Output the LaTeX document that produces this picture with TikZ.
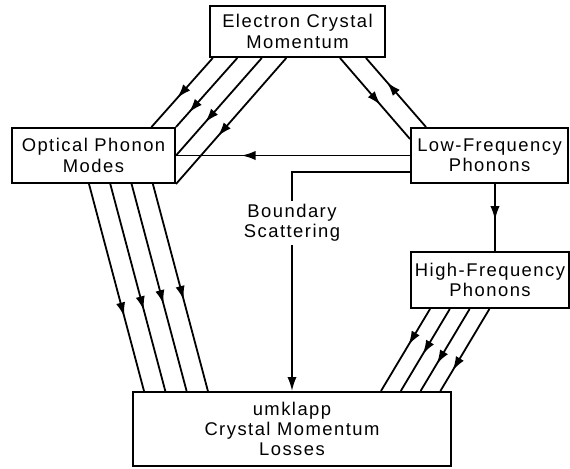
\documentclass[tikz,border=0pt]{standalone}
\usepackage{fontspec}
\setmainfont{Liberation Sans}[LetterSpace=8.0]
\usetikzlibrary{arrows.meta,calc,decorations.markings}

\tikzset{
  box/.style={draw, line width=1pt, align=center, inner sep=0pt,
    font=\fontsize{9.2}{10.2}\selectfont},
  link/.style={line width=0.9pt},
  tipat/.style={postaction={decorate}, decoration={markings,
    mark=at position #1 with {\arrow{Latex[length=7pt,width=4.6pt]}}}},
}

\begin{document}
\begin{tikzpicture}[x=0.5pt, y=-0.5pt]

% Frame (pixel grid of the figure)
\useasboundingbox (0,0) rectangle (570,468);

% Boxes
\node[box, minimum width=87.5pt, minimum height=25.5pt] (ecm) at (297.5,31.5) {Electron Crystal\\Momentum};
\node[box, minimum width=81.5pt, minimum height=27.5pt] (opm) at (93.5,155.5) {Optical Phonon\\Modes};
\node[box, minimum width=78.5pt, minimum height=27.5pt] (lfp) at (489.5,155.5) {Low-Frequency\\Phonons};
\node[box, minimum width=79pt, minimum height=28pt] (hfp) at (490,280) {High-Frequency\\Phonons};
\node[box, minimum width=159pt, minimum height=37pt] (ukl) at (292,429) {umklapp\\Crystal Momentum\\Losses};

% Label on the boundary channel
\node[align=center, inner sep=1.5pt, font=\fontsize{9.2}{10.2}\selectfont] (bnd) at (292,223) {Boundary\\Scattering};

% Electron -> Optical (four channels)
\foreach \i/\a/\dx/\p in {0/north east/-24.5/0.58, 1/north east/0/0.79, 2/east/0/0.66, 3/south east/0/0.62} {
    \draw[link, tipat=\p] ($(ecm.south west)+({3.8+24.5*\i},0)$) -- ($(opm.\a)+(\dx,0)$);
}

% Electron <-> Low-Frequency
\draw[link, tipat=0.58] ($(ecm.south west)+(131,0)$) -- ($(lfp.north west)+(0,12)$);
\draw[link, tipat=0.65] ($(lfp.north west)+(16,0)$) -- ($(ecm.south west)+(157,0)$);

% Low-Frequency -> Optical
\draw[link, tipat=0.72] (lfp.west) -- (opm.east);

% Low-Frequency -> High-Frequency
\draw[link, tipat=0.54] ($(lfp.south west)+(85,0)$) -- ($(hfp.north west)+(85,0)$);

% Low-Frequency -> umklapp via boundary scattering
\draw[link] ($(lfp.north west)+(0,45)$) -| (bnd.north);
\draw[link, -{Latex[length=7pt,width=4.6pt]}] (bnd.south) -- (ukl.north);

% Optical -> umklapp (four channels)
\foreach \i/\p in {0/0.64, 1/0.61, 2/0.58, 3/0.56} {
    \draw[link, tipat=\p] ($(opm.south west)+({78+21.3*\i},0)$) -- ($(ukl.north west)+({12+21.3*\i},0)$);
}

% High-Frequency -> umklapp (four channels)
\foreach \i/\p in {0/0.44, 1/0.55, 2/0.67, 3/0.75} {
    \draw[link, tipat=\p] ($(hfp.south west)+({20+19.8*\i},0)$) -- ($(ukl.north west)+({249+19.8*\i},0)$);
}

\end{tikzpicture}
\end{document}
